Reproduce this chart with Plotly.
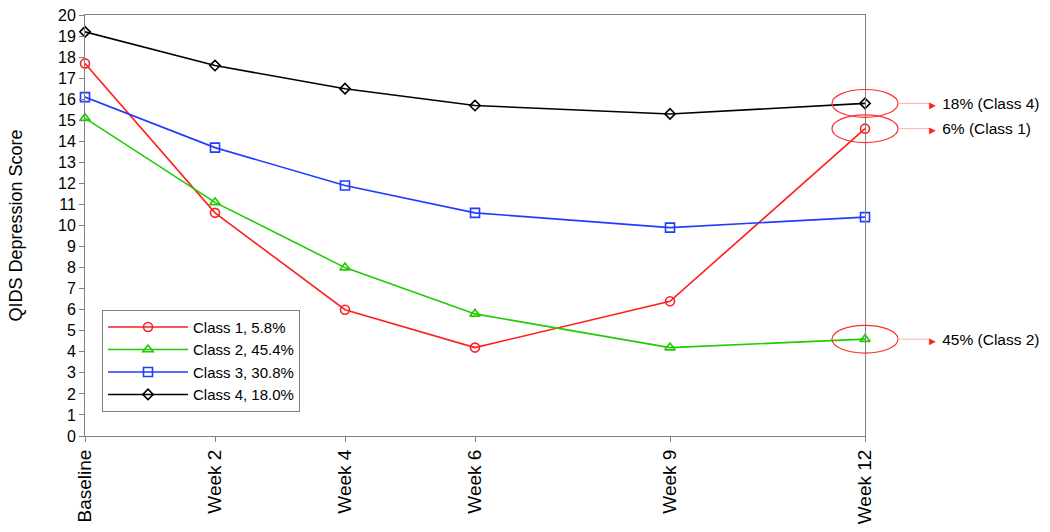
import plotly.graph_objects as go

# eixo x em semanas
semanas = [0, 2, 4, 6, 9, 12]
rotulos = ['Baseline', 'Week 2', 'Week 4', 'Week 6', 'Week 9', 'Week 12']

classe1 = [17.7, 10.6, 6.0, 4.2, 6.4, 14.6]
classe2 = [15.1, 11.1, 8.0, 5.8, 4.2, 4.6]
classe3 = [16.1, 13.7, 11.9, 10.6, 9.9, 10.4]
classe4 = [19.2, 17.6, 16.5, 15.7, 15.3, 15.8]

nomes = ['Class 1, 5.8%', 'Class 2, 45.4%', 'Class 3, 30.8%', 'Class 4, 18.0%']

# destaques na semana 12
destaque_valores = [15.8, 14.6, 4.6]
destaque_textos = ['18% (Class 4)', '6% (Class 1)', '45% (Class 2)']

fig = go.Figure()

series = [
    (classe1, nomes[0], '#ff1f1f', 'circle-open', 9),
    (classe2, nomes[1], '#1ecc00', 'triangle-up-open', 9),
    (classe3, nomes[2], '#1f3dff', 'square-open', 9),
    (classe4, nomes[3], '#000000', 'diamond-open', 8),
]
for valores, nome, cor, simbolo, tam in series:
    fig.add_trace(go.Scatter(
        x=semanas, y=valores, name=nome, mode='lines+markers',
        line=dict(color=cor, width=1.6),
        marker=dict(symbol=simbolo, size=tam, color=cor, line=dict(width=1.6, color=cor)),
        cliponaxis=False
    ))

# área do gráfico: x 85..865, y 15..436
L, R = 85, 865
def px(p):
    return (p - L) / (R - L)

for v, txt in zip(destaque_valores, destaque_textos):
    fig.add_shape(type='circle', xref='paper', yref='y',
                  x0=px(832), x1=px(898), y0=v - 0.66, y1=v + 0.66,
                  line=dict(color='#ff3030', width=1.2))
    fig.add_shape(type='line', xref='paper', yref='y',
                  x0=px(898), x1=px(930), y0=v, y1=v,
                  line=dict(color='#ffb0b0', width=1))
    fig.add_annotation(xref='paper', yref='y', x=px(925), y=v, xanchor='left',
                       text="<span style='color:#ff2020;font-size:11px'>►</span> " + txt,
                       showarrow=False, font=dict(size=15.5, color='black'))

fig.update_layout(
    width=1050, height=532,
    margin=dict(l=85, r=185, t=15, b=96),
    plot_bgcolor='white', paper_bgcolor='white',
    font=dict(family='Liberation Sans, Arial', color='black'),
    xaxis=dict(range=[0, 12], tickvals=semanas, ticktext=rotulos, tickangle=-90,
               showgrid=False, zeroline=False, showline=True, linecolor='#808080',
               mirror=True, ticks='outside', ticklen=5, tickcolor='#808080',
               tickfont=dict(size=19), automargin=False),
    yaxis=dict(range=[0, 20], dtick=1, showgrid=False, zeroline=False, showline=True,
               linecolor='#808080', mirror=True, ticks='outside', ticklen=5,
               tickcolor='#808080', tickfont=dict(size=16), automargin=False,
               title=dict(text='QIDS Depression Score', font=dict(size=18), standoff=30)),
    legend=dict(x=px(102), y=0.30, xanchor='left', yanchor='top',
                bordercolor='#808080', borderwidth=1, font=dict(size=15),
                tracegroupgap=0, itemwidth=80),
    showlegend=True
)

# tira a margem padrão do body para o gráfico ocupar a janela toda
fig.write_html('out.html', config={'displayModeBar': False},
               post_script="document.body.style.margin='0';")
